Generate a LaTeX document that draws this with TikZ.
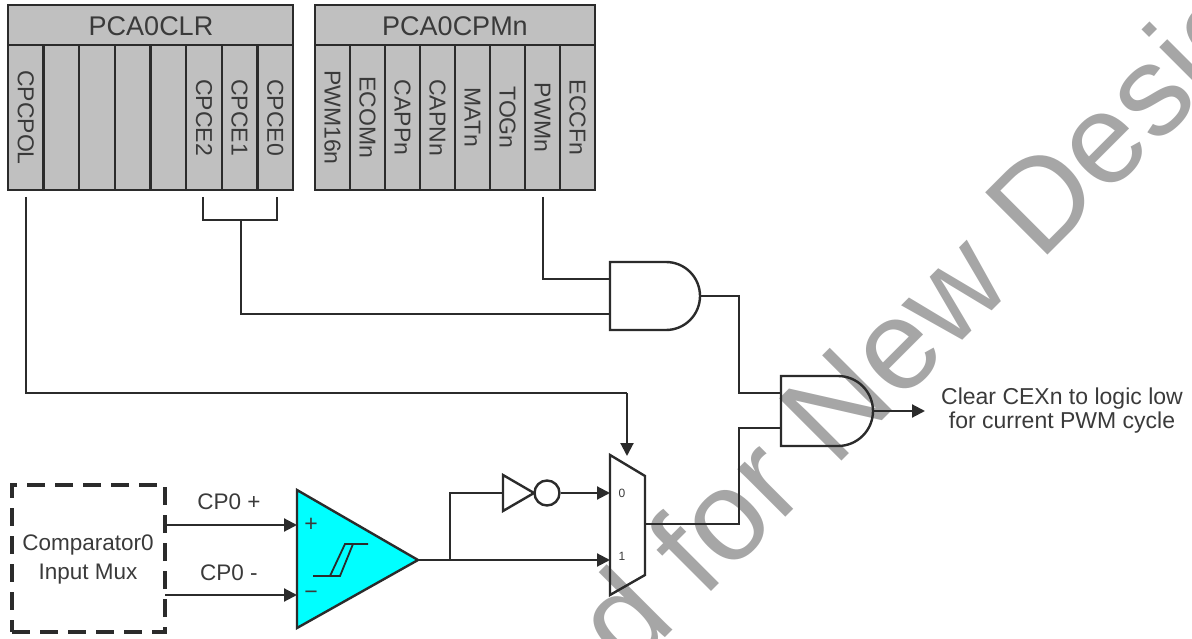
\documentclass[tikz,border=0pt]{standalone}
\usepackage{fontspec}
\setmainfont{Liberation Sans}
\usetikzlibrary{arrows.meta,calc}
\definecolor{cellgray}{HTML}{C0C0C0}
\definecolor{inkdark}{HTML}{2B2B2B}
\definecolor{txtdark}{HTML}{3A3A3A}
\definecolor{wmgray}{HTML}{A6A6A6}
\definecolor{compcyan}{HTML}{00FFFF}
\tikzset{
  wire/.style={draw=inkdark,line width=2.1pt},
  arrowwire/.style={wire,-{Triangle[length=13pt,width=13pt]}},
  regbox/.style={draw=inkdark,line width=2.4pt,fill=cellgray,inner sep=0pt,outer sep=0pt},
  regtext/.style={text=txtdark,font=\fontsize{27}{27}\selectfont,inner sep=0pt},
  bitcell/.style={regbox,minimum height=145pt},
  bittext/.style={text=txtdark,font=\fontsize{23}{23}\selectfont,rotate=-90,inner sep=0pt},
  gate/.style={draw=inkdark,line width=2.4pt},
  lbl/.style={text=txtdark,font=\fontsize{22.5}{22.5}\selectfont,inner sep=0pt,align=center},
  watermark/.style={text=wmgray,font=\fontsize{128}{128}\selectfont,rotate=45,anchor=base west,inner sep=0pt}
}
\begin{document}
\begin{tikzpicture}[x=1pt,y=-1pt]
\useasboundingbox (0,0) rectangle (1192,639);
\begin{scope}
\clip (0,0) rectangle (1192,639);
\node[watermark] (wm) at (628,675) {d for New Desig};
\end{scope}

% PCA0CLR register
\node[regbox,minimum width=285pt,minimum height=40pt] (clr) at (150.5,25) {};
\node[regtext] (clrt) at (151,26) {PCA0CLR};
\foreach \i/\t in {0/CPCPOL,1/,2/,3/,4/,5/CPCE2,6/CPCE1,7/CPCE0}{
  \node[bitcell,minimum width=35.6pt] (c\i) at ({8+35.625*(\i+0.5)},117.5) {};
  \node[bittext] (ct\i) at (c\i) {\t};
}
% PCA0CPMn register
\node[regbox,minimum width=280pt,minimum height=40pt] (cpm) at (455,25) {};
\node[regtext] (cpmt) at (455,26) {PCA0CPMn};
\foreach \i/\t in {0/PWM16n,1/ECOMn,2/CAPPn,3/CAPNn,4/MATn,5/TOGn,6/PWMn,7/ECCFn}{
  \node[bitcell,minimum width=35pt] (p\i) at ({315+35*(\i+0.5)},117.5) {};
  \node[bittext] (pt\i) at (p\i) {\t};
}

% AND gates
\draw[gate] (610,262) -- (666,262) arc[start angle=-90,end angle=90,radius=34] -- (610,330) -- cycle;
\coordinate (a1i1) at (610,279);
\coordinate (a1i2) at (610,314);
\coordinate (a1o) at (700,296);
\draw[gate] (781,376) -- (838,376) arc[start angle=-90,end angle=90,radius=35] -- (781,446) -- cycle;
\coordinate (a2i1) at (781,393);
\coordinate (a2i2) at (781,428);
\coordinate (a2o) at (873,411);

% Mux
\draw[gate] (610,455) -- (645,476) -- (645,575) -- (610,595) -- cycle;
\coordinate (mt) at (627,456);
\coordinate (m0) at (610,493);
\coordinate (m1) at (610,560);
\coordinate (mo) at (645,524);
\node[text=txtdark,font=\fontsize{12}{12}\selectfont,inner sep=0pt] (m0t) at (622,493) {0};
\node[text=txtdark,font=\fontsize{12}{12}\selectfont,inner sep=0pt] (m1t) at (622,556) {1};

% Inverter
\draw[gate] (503,475) -- (534,493) -- (503,511) -- cycle;
\node[draw=inkdark,line width=2.4pt,circle,minimum size=25pt,inner sep=0pt] (inv) at (547,493) {};
\coordinate (invi) at (503,493);

% Comparator
\draw[gate,fill=compcyan] (297,490) -- (418,560) -- (297,628) -- cycle;
\coordinate (cp) at (297,525);
\coordinate (cm) at (297,595);
\coordinate (co) at (418,560);
\node[text=txtdark,font=\fontsize{23}{23}\selectfont,inner sep=0pt] (plus) at (311,525) {+};
\node[text=txtdark,font=\fontsize{23}{23}\selectfont,inner sep=0pt] (minus) at (311,595) {−};
\draw[wire,line width=1.8pt] (313,576) -- (340,576) -- (353,544) -- (368,544) -- (345,544) -- (330,576);

% Dashed input box
\node[draw=inkdark,line width=3.4pt,dash pattern=on 18pt off 10pt,minimum width=153pt,minimum height=147pt,inner sep=0pt] (mux) at (88.5,558.5) {};
\node[lbl] (muxt) at (88,545) {Comparator0};
\node[lbl] (muxb) at (88,574) {Input Mux};
\coordinate (mxp) at (165,525);
\coordinate (mxm) at (165,595);
\node[lbl] (cpt) at (229,502) {CP0 +};
\node[lbl] (cmt) at (229,573) {CP0 -};

% Connectors
\coordinate (pol) at (26,197);
\draw[wire] (pol) |- (627,393) coordinate (turn);
\draw[arrowwire] (turn) -- (mt);
\coordinate (b1) at (203,197);
\coordinate (b2) at (277,197);
\coordinate (b3) at (241,220);
\draw[wire] (b1) |- (b3) -| (b2);
\draw[wire] (b3) |- (a1i2);
\coordinate (pw) at (543,197);
\draw[wire] (pw) |- (a1i1);
\coordinate (j1) at (739,296);
\draw[wire] (a1o) -- (j1) |- (a2i1);
\coordinate (j2) at (739,524);
\draw[wire] (mo) -- (j2) |- (a2i2);
\coordinate (out) at (925,411);
\draw[arrowwire] (a2o) -- (out);
\node[lbl,font=\fontsize{23}{23}\selectfont] (outa) at (1062,399) {Clear CEXn to logic low};
\node[lbl,font=\fontsize{23}{23}\selectfont] (outb) at (1062,423) {for current PWM cycle};
\draw[arrowwire] (mxp) -- (cp);
\draw[arrowwire] (mxm) -- (cm);
\coordinate (j3) at (450,560);
\draw[wire] (co) -- (j3);
\draw[arrowwire] (j3) -- (m1);
\coordinate (j4) at (450,493);
\draw[wire] (j3) -- (j4) -- (invi);
\draw[arrowwire] (inv.east) -- (m0);
\end{tikzpicture}
\end{document}
